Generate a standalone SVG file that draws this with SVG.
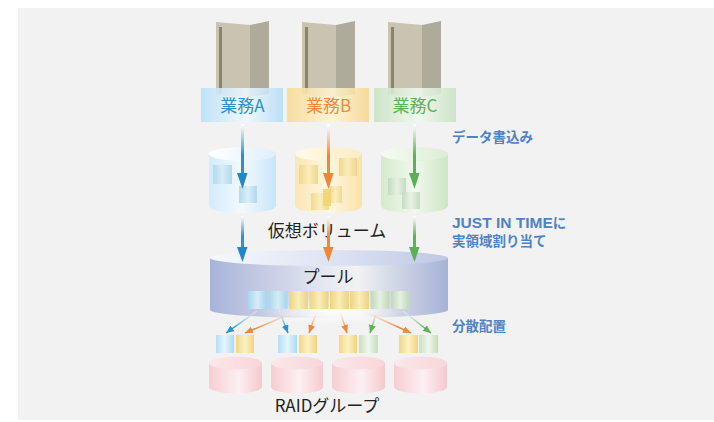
<svg xmlns="http://www.w3.org/2000/svg" width="714" height="422" viewBox="0 0 714 422">
  <style>
    .lbl { font-family: "Noto Sans CJK JP", "Noto Sans", sans-serif; font-size: 17px; text-anchor: middle; }
    .dark { fill: #222222; }
    .note { font-family: "Noto Sans CJK JP", "Noto Sans", sans-serif; font-size: 13.5px; font-weight: bold; fill: #4d83c4; }
    .latin { font-family: "Liberation Sans", Arial, sans-serif; }
    .srvF { fill: #c9c3b1; }
    .srvR { fill: #afab9b; }
    .slot { fill: #8a8567; }
  </style>
  <defs>
    <!-- label boxes -->
    <linearGradient id="boxA" x1="0" x2="1" y1="0" y2="0">
      <stop offset="0" stop-color="#b9e0f8"/><stop offset="0.55" stop-color="#eef8fe"/><stop offset="1" stop-color="#b5dcf6"/>
    </linearGradient>
    <linearGradient id="boxB" x1="0" x2="1" y1="0" y2="0">
      <stop offset="0" stop-color="#f7d993"/><stop offset="0.55" stop-color="#fff5d2"/><stop offset="1" stop-color="#f6d78f"/>
    </linearGradient>
    <linearGradient id="boxC" x1="0" x2="1" y1="0" y2="0">
      <stop offset="0" stop-color="#c9e2c2"/><stop offset="0.55" stop-color="#f1f8ee"/><stop offset="1" stop-color="#c8e1c1"/>
    </linearGradient>
    <!-- virtual volume cylinders -->
    <linearGradient id="cylA" x1="0" x2="1" y1="0" y2="0">
      <stop offset="0" stop-color="#d3ebfb"/><stop offset="0.5" stop-color="#f3f9fe"/><stop offset="1" stop-color="#c8e5f9"/>
    </linearGradient>
    <linearGradient id="cylB" x1="0" x2="1" y1="0" y2="0">
      <stop offset="0" stop-color="#fbe6b4"/><stop offset="0.5" stop-color="#fff7e2"/><stop offset="1" stop-color="#fae2a8"/>
    </linearGradient>
    <linearGradient id="cylC" x1="0" x2="1" y1="0" y2="0">
      <stop offset="0" stop-color="#d4eacc"/><stop offset="0.5" stop-color="#f1f8ee"/><stop offset="1" stop-color="#cde6c4"/>
    </linearGradient>
    <linearGradient id="topA" x1="0" x2="1" y1="0" y2="0">
      <stop offset="0" stop-color="#ffffff"/><stop offset="1" stop-color="#def0fc"/>
    </linearGradient>
    <linearGradient id="topB" x1="0" x2="1" y1="0" y2="0">
      <stop offset="0" stop-color="#fffaec"/><stop offset="1" stop-color="#fcecc2"/>
    </linearGradient>
    <linearGradient id="topC" x1="0" x2="1" y1="0" y2="0">
      <stop offset="0" stop-color="#f6fbf4"/><stop offset="1" stop-color="#dcedd5"/>
    </linearGradient>
    <!-- data blocks -->
    <linearGradient id="blkA" x1="0" x2="1" y1="0" y2="0">
      <stop offset="0" stop-color="#a9d6ee"/><stop offset="0.5" stop-color="#d5ecf7"/><stop offset="1" stop-color="#a7d4ec"/>
    </linearGradient>
    <linearGradient id="blkB" x1="0" x2="1" y1="0" y2="0">
      <stop offset="0" stop-color="#eed482"/><stop offset="0.5" stop-color="#f9edb8"/><stop offset="1" stop-color="#ecd283"/>
    </linearGradient>
    <linearGradient id="blkC" x1="0" x2="1" y1="0" y2="0">
      <stop offset="0" stop-color="#c0d8bc"/><stop offset="0.5" stop-color="#e6f0e2"/><stop offset="1" stop-color="#bfd7ba"/>
    </linearGradient>
    <linearGradient id="sblkA" x1="0" x2="1" y1="0" y2="0">
      <stop offset="0" stop-color="#b5def5"/><stop offset="0.5" stop-color="#e6f5fd"/><stop offset="1" stop-color="#acd9f3"/>
    </linearGradient>
    <linearGradient id="sblkB" x1="0" x2="1" y1="0" y2="0">
      <stop offset="0" stop-color="#f3d684"/><stop offset="0.5" stop-color="#fcf1c4"/><stop offset="1" stop-color="#f0d37e"/>
    </linearGradient>
    <linearGradient id="sblkC" x1="0" x2="1" y1="0" y2="0">
      <stop offset="0" stop-color="#c7e0c0"/><stop offset="0.5" stop-color="#eff7ec"/><stop offset="1" stop-color="#c4ddbc"/>
    </linearGradient>
    <!-- pool -->
    <linearGradient id="pool" x1="0" x2="1" y1="0" y2="0">
      <stop offset="0" stop-color="#a8b3d8"/><stop offset="0.5" stop-color="#e7eaf2"/><stop offset="0.62" stop-color="#f1f2f1"/><stop offset="1" stop-color="#a6b1d7"/>
    </linearGradient>
    <linearGradient id="poolTop" x1="0" x2="1" y1="0" y2="0">
      <stop offset="0" stop-color="#f6f8fd"/><stop offset="0.5" stop-color="#dfe4f3"/><stop offset="1" stop-color="#bfc8e5"/>
    </linearGradient>
    <radialGradient id="glow" cx="0.5" cy="0.5" r="0.5">
      <stop offset="0" stop-color="#ffffff" stop-opacity="0.9"/><stop offset="1" stop-color="#ffffff" stop-opacity="0"/>
    </radialGradient>
    <!-- RAID disks -->
    <linearGradient id="raid" x1="0" x2="1" y1="0" y2="0">
      <stop offset="0" stop-color="#f6cdd1"/><stop offset="0.55" stop-color="#fcf0f2"/><stop offset="1" stop-color="#f5c9ce"/>
    </linearGradient>
    <linearGradient id="raidTop" x1="0" x2="1" y1="0" y2="0">
      <stop offset="0" stop-color="#fbe7e9"/><stop offset="1" stop-color="#f8d6da"/>
    </linearGradient>
    <!-- arrow shafts fading in from white -->
    <linearGradient id="shA" x1="0" x2="0" y1="0" y2="1">
      <stop offset="0" stop-color="#ffffff"/><stop offset="0.6" stop-color="#2c92d2"/>
    </linearGradient>
    <linearGradient id="shB" x1="0" x2="0" y1="0" y2="1">
      <stop offset="0" stop-color="#ffffff"/><stop offset="0.6" stop-color="#f0883a"/>
    </linearGradient>
    <linearGradient id="shC" x1="0" x2="0" y1="0" y2="1">
      <stop offset="0" stop-color="#ffffff"/><stop offset="0.6" stop-color="#5db259"/>
    </linearGradient>
    <linearGradient id="dA" gradientUnits="userSpaceOnUse" x1="0" y1="310" x2="0" y2="328">
      <stop offset="0" stop-color="#ffffff" stop-opacity="0.4"/><stop offset="1" stop-color="#2c92d2"/>
    </linearGradient>
    <linearGradient id="dB" gradientUnits="userSpaceOnUse" x1="0" y1="310" x2="0" y2="328">
      <stop offset="0" stop-color="#ffffff" stop-opacity="0.4"/><stop offset="1" stop-color="#f0883a"/>
    </linearGradient>
    <linearGradient id="dC" gradientUnits="userSpaceOnUse" x1="0" y1="310" x2="0" y2="328">
      <stop offset="0" stop-color="#ffffff" stop-opacity="0.4"/><stop offset="1" stop-color="#5db259"/>
    </linearGradient>
    <marker id="mA" markerUnits="userSpaceOnUse" markerWidth="9" markerHeight="7" refX="8" refY="3.5" orient="auto">
      <path d="M0,0 L8,3.5 L0,7 Z" fill="#2c92d2"/>
    </marker>
    <marker id="mB" markerUnits="userSpaceOnUse" markerWidth="9" markerHeight="7" refX="8" refY="3.5" orient="auto">
      <path d="M0,0 L8,3.5 L0,7 Z" fill="#f0883a"/>
    </marker>
    <marker id="mC" markerUnits="userSpaceOnUse" markerWidth="9" markerHeight="7" refX="8" refY="3.5" orient="auto">
      <path d="M0,0 L8,3.5 L0,7 Z" fill="#5db259"/>
    </marker>
  </defs>

  <!-- panel -->
  <rect x="0" y="0" width="714" height="422" fill="#ffffff"/>
  <rect x="18" y="8" width="696" height="412" fill="#f2f2f2"/>

  <!-- business servers -->
  <g id="serverA">
    <polygon class="srvF" points="216,22 250,25 250,97 216,95"/>
    <polygon class="srvR" points="250,25 269,21 269,94 250,97"/>
    <rect class="slot" x="219" y="27" width="3" height="66"/>
  </g>
  <g id="serverB">
    <polygon class="srvF" points="302,22 336,25 336,97 302,95"/>
    <polygon class="srvR" points="336,25 355,21 355,94 336,97"/>
    <rect class="slot" x="305" y="27" width="3" height="66"/>
  </g>
  <g id="serverC">
    <polygon class="srvF" points="388,22 422,25 422,97 388,95"/>
    <polygon class="srvR" points="422,25 441,21 441,94 422,97"/>
    <rect class="slot" x="391" y="27" width="3" height="66"/>
  </g>

  <g id="jobA">
    <rect x="201" y="88" width="82" height="34" fill="url(#boxA)" opacity="0.88"/>
    <text class="lbl" x="242.5" y="112" fill="#2c8fcf" font-size="18">業務A</text>
  </g>
  <g id="jobB">
    <rect x="287" y="88" width="82" height="34" fill="url(#boxB)" opacity="0.88"/>
    <text class="lbl" x="328.5" y="112" fill="#ef8a3c" font-size="18">業務B</text>
  </g>
  <g id="jobC">
    <rect x="374" y="88" width="82" height="34" fill="url(#boxC)" opacity="0.88"/>
    <text class="lbl" x="415" y="112" fill="#5bb15a" font-size="18">業務C</text>
  </g>

  <!-- virtual volumes -->
  <g id="volA">
    <path d="M209,154 V206 A33.5,7 0 0 0 276,206 V154 Z" fill="url(#cylA)"/>
    <ellipse cx="242.5" cy="154" rx="33.5" ry="7" fill="url(#topA)"/>
    <rect x="213" y="165" width="19" height="19" fill="url(#blkA)" opacity="0.85"/>
    <rect x="239" y="186" width="18" height="17" fill="url(#blkA)" opacity="0.85"/>
  </g>
  <g id="volB">
    <path d="M295,154 V206 A33.5,7 0 0 0 362,206 V154 Z" fill="url(#cylB)"/>
    <ellipse cx="328.5" cy="154" rx="33.5" ry="7" fill="url(#topB)"/>
    <rect x="299" y="165" width="19" height="19" fill="url(#blkB)" opacity="0.85"/>
    <rect x="339" y="158" width="18" height="18" fill="url(#blkB)" opacity="0.85"/>
    <rect x="311" y="193" width="18" height="17" fill="url(#blkB)" opacity="0.8"/>
    <rect x="329" y="186" width="13" height="17" fill="url(#blkB)" opacity="0.8"/>
    <rect x="323" y="189" width="8" height="17" fill="#f3d470" opacity="0.9"/>
  </g>
  <g id="volC">
    <path d="M381,154 V206 A33.5,7 0 0 0 448,206 V154 Z" fill="url(#cylC)"/>
    <ellipse cx="414.5" cy="154" rx="33.5" ry="7" fill="url(#topC)"/>
    <rect x="388" y="178" width="18" height="17" fill="url(#blkC)" opacity="0.85"/>
    <rect x="402" y="192" width="18" height="17" fill="url(#blkC)" opacity="0.85"/>
  </g>
  <text class="lbl dark" x="327" y="237">仮想ボリューム</text>

  <!-- storage pool -->
  <g id="pool">
    <path d="M210,258 V310 A119,8 0 0 0 448,310 V258 Z" fill="url(#pool)"/>
    <ellipse cx="329" cy="258" rx="119" ry="8" fill="url(#poolTop)"/>
    <ellipse cx="332" cy="312" rx="70" ry="14" fill="url(#glow)"/>
    <text class="lbl dark" x="328" y="283">プール</text>
    <rect x="248" y="291" width="19" height="18" fill="url(#blkA)"/>
    <rect x="268.5" y="291" width="19" height="18" fill="url(#blkA)"/>
    <rect x="289" y="291" width="19" height="18" fill="url(#blkB)"/>
    <rect x="309.5" y="291" width="19" height="18" fill="url(#blkB)"/>
    <rect x="330" y="291" width="19" height="18" fill="url(#blkB)"/>
    <rect x="350" y="291" width="19" height="18" fill="url(#blkB)"/>
    <rect x="370.5" y="291" width="19" height="18" fill="url(#blkC)"/>
    <rect x="391" y="291" width="18.5" height="18" fill="url(#blkC)"/>
  </g>

  <!-- RAID group disks with their data blocks -->
  <g id="raid1">
    <rect x="216" y="335" width="18" height="18" fill="url(#sblkA)"/>
    <rect x="236" y="335" width="18" height="18" fill="url(#sblkB)"/>
    <path d="M209,363 V387 A26.5,6.5 0 0 0 262,387 V363 Z" fill="url(#raid)"/>
    <ellipse cx="235.5" cy="363" rx="26.5" ry="6.5" fill="url(#raidTop)"/>
  </g>
  <g id="raid2">
    <rect x="278" y="335" width="19" height="18" fill="url(#sblkA)"/>
    <rect x="299" y="335" width="18" height="18" fill="url(#sblkB)"/>
    <path d="M271,363 V387 A26,6.5 0 0 0 323,387 V363 Z" fill="url(#raid)"/>
    <ellipse cx="297" cy="363" rx="26" ry="6.5" fill="url(#raidTop)"/>
  </g>
  <g id="raid3">
    <rect x="339" y="335" width="18" height="18" fill="url(#sblkB)"/>
    <rect x="359" y="335" width="19" height="18" fill="url(#sblkC)"/>
    <path d="M332,363 V387 A26.5,6.5 0 0 0 385,387 V363 Z" fill="url(#raid)"/>
    <ellipse cx="358.5" cy="363" rx="26.5" ry="6.5" fill="url(#raidTop)"/>
  </g>
  <g id="raid4">
    <rect x="399" y="335" width="19" height="18" fill="url(#sblkB)"/>
    <rect x="419" y="335" width="19" height="18" fill="url(#sblkC)"/>
    <path d="M394,363 V387 A26.5,6.5 0 0 0 447,387 V363 Z" fill="url(#raid)"/>
    <ellipse cx="420.5" cy="363" rx="26.5" ry="6.5" fill="url(#raidTop)"/>
  </g>
  <text class="lbl dark" x="327" y="412">RAIDグループ</text>

  <!-- connectors -->
  <g id="connectors">
    <!-- writes into virtual volumes -->
    <rect x="241" y="124" width="3" height="52" fill="url(#shA)"/>
    <polygon points="237,173 247.5,173 242.5,189" fill="#1f88cb"/>
    <rect x="327" y="124" width="3" height="52" fill="url(#shB)"/>
    <polygon points="323,173 333.5,173 328.5,189" fill="#ef8535"/>
    <rect x="413" y="124" width="3" height="52" fill="url(#shC)"/>
    <polygon points="409,173 419.5,173 414.5,189" fill="#59b055"/>
    <!-- allocation from the pool -->
    <rect x="241" y="216" width="3" height="34" fill="url(#shA)"/>
    <polygon points="237,247 247.5,247 242.5,262" fill="#1f88cb"/>
    <rect x="327" y="216" width="3" height="34" fill="url(#shB)"/>
    <polygon points="323,247 333.5,247 328.5,262" fill="#ef8535"/>
    <rect x="413" y="216" width="3" height="34" fill="url(#shC)"/>
    <polygon points="409,247 419.5,247 414.5,262" fill="#59b055"/>
    <!-- distribution to RAID groups -->
    <line x1="257" y1="311" x2="226" y2="333" stroke="url(#dA)" stroke-width="1.5" marker-end="url(#mA)"/>
    <line x1="297" y1="311" x2="245" y2="333" stroke="url(#dB)" stroke-width="1.5" marker-end="url(#mB)"/>
    <line x1="279" y1="310" x2="288" y2="333" stroke="url(#dA)" stroke-width="1.5" marker-end="url(#mA)"/>
    <line x1="317" y1="311" x2="309" y2="333" stroke="url(#dB)" stroke-width="1.5" marker-end="url(#mB)"/>
    <line x1="340" y1="311" x2="347" y2="333" stroke="url(#dB)" stroke-width="1.5" marker-end="url(#mB)"/>
    <line x1="377" y1="311" x2="370" y2="333" stroke="url(#dC)" stroke-width="1.5" marker-end="url(#mC)"/>
    <line x1="363" y1="311" x2="411" y2="333" stroke="url(#dB)" stroke-width="1.5" marker-end="url(#mB)"/>
    <line x1="403" y1="311" x2="431" y2="333" stroke="url(#dC)" stroke-width="1.5" marker-end="url(#mC)"/>
  </g>

  <!-- side notes -->
  <text class="note" x="452" y="142">データ書込み</text>
  <text class="note" x="452" y="228"><tspan class="latin" font-size="15.5">JUST IN TIME</tspan>に</text>
  <text class="note" x="452" y="246">実領域割り当て</text>
  <text class="note" x="452" y="331">分散配置</text>
</svg>
